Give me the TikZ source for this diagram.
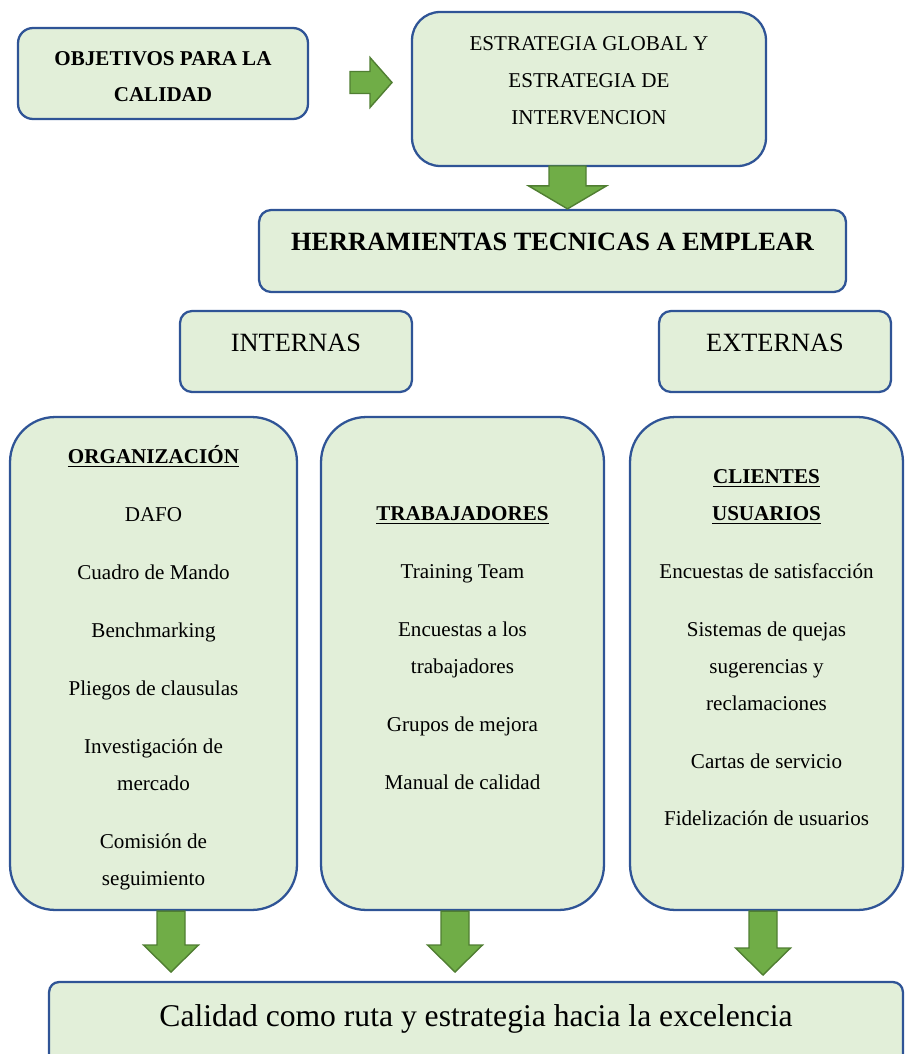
\documentclass[tikz,border=0pt]{standalone}
\usepackage{fontspec}
\setmainfont{Liberation Serif}
\usepackage{tikz}
\usetikzlibrary{positioning}
\usetikzlibrary{calc}
\definecolor{boxgreen}{HTML}{E2EFD9}
\definecolor{boxblue}{HTML}{2F5496}
\definecolor{arrowgreen}{HTML}{70AD47}
\definecolor{arrowdark}{HTML}{507E32}
\tikzset {
  % rounded green boxes
  box/.style = {draw=boxblue, fill=boxgreen, line width=1.3pt, align=center, inner sep=0pt,
    font=\fontsize{12}{21}\selectfont},
  boldbox/.style = {box, font=\bfseries\fontsize{12}{21}\selectfont},
  bigbox/.style = {box, font=\fontsize{15}{18}\selectfont, text height=10pt, text depth=10pt},
  tallbox/.style = {box, rounded corners=0.9cm, minimum height=9.86cm},
  % sizes of the block arrows (in px)
  bshaft/.store in=\bshaft, bhead/.store in=\bhead, blen/.store in=\blen,
  bshaft=14, bhead=27.5, blen=27,
  arrowbody/.style={fill=arrowgreen, draw=arrowdark, line width=0.8pt},
  % fat arrow going down
  downblock/.style={arrowbody, to path={
    ($(\tikztostart)+(-\bshaft,0)$) -- ($(\tikztotarget)+(-\bshaft,-\blen)$)
    -- ($(\tikztotarget)+(-\bhead,-\blen)$) -- (\tikztotarget)
    -- ($(\tikztotarget)+(\bhead,-\blen)$) -- ($(\tikztotarget)+(\bshaft,-\blen)$)
    -- ($(\tikztostart)+(\bshaft,0)$) -- cycle}},
  % fat arrow going right
  rightblock/.style={arrowbody, to path={
    ($(\tikztostart)+(0,-\bshaft)$) -- ($(\tikztotarget)+(-\blen,-\bshaft)$)
    -- ($(\tikztotarget)+(-\blen,-\bhead)$) -- (\tikztotarget)
    -- ($(\tikztotarget)+(-\blen,\bhead)$) -- ($(\tikztotarget)+(-\blen,\bshaft)$)
    -- ($(\tikztostart)+(0,\bshaft)$) -- cycle}},
}

\begin{document}
\begin{tikzpicture}[x=0.02cm, y=-0.02cm]
        \useasboundingbox (0, 0) rectangle (905, 1054);

        \node[boldbox, rounded corners=0.3cm, minimum width=5.8cm, minimum height=1.82cm] (obj) at (163, 73.5) {OBJETIVOS PARA LA\\CALIDAD\\[-24.4pt]\mbox{}};
        \node[box, rounded corners=0.56cm, minimum width=7.08cm, minimum height=3.08cm] (estr) at (589, 89) {ESTRATEGIA GLOBAL Y\\ESTRATEGIA DE\\INTERVENCION\\[-11.4pt]\mbox{}};
        \node[bigbox, font=\bfseries\fontsize{15}{18}\selectfont, rounded corners=0.24cm, minimum width=11.74cm, minimum height=1.64cm] (herr) at (552.5, 251) {HERRAMIENTAS TECNICAS A EMPLEAR};

        \node[bigbox, rounded corners=0.24cm, minimum width=4.64cm, minimum height=1.62cm] (int) at (296, 351.5) {INTERNAS};
        \node[bigbox, rounded corners=0.24cm, minimum width=4.64cm, minimum height=1.62cm] (ext) at (775, 351.5) {EXTERNAS};

        \node[tallbox, minimum width=5.74cm] (org) at (153.5, 663.5) {\underline{\textbf{ORGANIZACIÓN}}\\[12pt]
          DAFO\\[12pt] Cuadro de Mando\\[12pt] Benchmarking\\[12pt] Pliegos de clausulas\\[12pt]
          Investigación de\\ mercado\\[12pt] Comisión de\\ seguimiento\\[-23pt]\mbox{}};
        \node[tallbox, minimum width=5.66cm] (trab) at (462.5, 663.5) {\underline{\textbf{TRABAJADORES}}\\[12pt]
          Training Team\\[12pt] Encuestas a los\\ trabajadores\\[12pt] Grupos de mejora\\[12pt]
          Manual de calidad\\[-3pt]\mbox{}};
        \node[tallbox, minimum width=5.46cm] (cli) at (766.5, 663.5) {\underline{\textbf{CLIENTES}}\\ \underline{\textbf{USUARIOS}}\\[12pt]
          Encuestas de satisfacción\\[12pt] Sistemas de quejas\\ sugerencias y\\ reclamaciones\\[12pt]
          Cartas de servicio\\[12pt] Fidelización de usuarios\\[-3pt]\mbox{}};

        \node[box, font=\fontsize{18}{22}\selectfont, text height=12pt, text depth=11pt, rounded corners=0.2cm, minimum width=17.08cm, minimum height=1.76cm] (calid) at (476, 1026) {Calidad como ruta y estrategia hacia la excelencia};

        \coordinate (r0) at (350, 82.5);
        \coordinate (r1) at (392, 82.5);
        \coordinate (d0) at (567.5, 166);
        \coordinate (a1) at (171, 972);
        \coordinate (a2) at (455, 972);
        \coordinate (a3) at (763, 975);

        \draw [rightblock, bshaft=11, bhead=25, blen=22] (r0) to (r1);
        \draw [downblock, bshaft=18.5, bhead=39, blen=23] (d0) to (d0 |- herr.north);

        \draw [downblock] (a1 |- org.south) to (a1);
        \draw [downblock] (a2 |- trab.south) to (a2);
        \draw [downblock] (a3 |- cli.south) to (a3);
      \end{tikzpicture}
\end{document}
